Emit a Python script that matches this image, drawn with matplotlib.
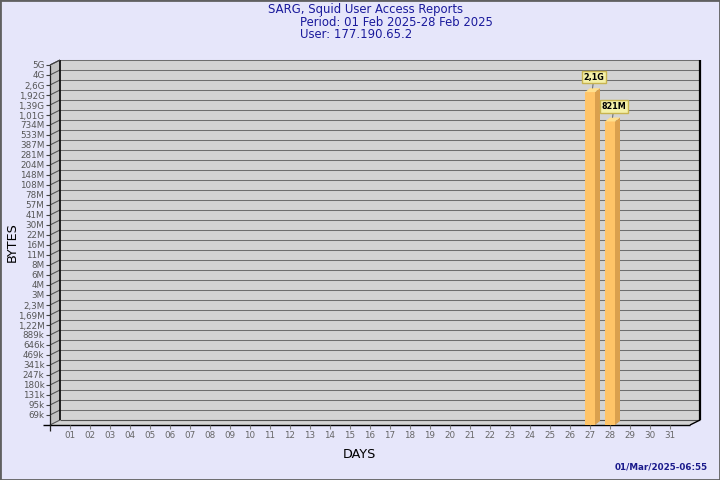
import numpy as np
import matplotlib
matplotlib.use("Agg")
import matplotlib.pyplot as plt
from matplotlib.patches import Polygon, Rectangle
from matplotlib.transforms import IdentityTransform

# ===============================
# Dados
# ===============================
DIAS = [f"{d:02d}" for d in range(1, 32)]

BARRAS_DIA = [27, 28]
BARRAS_BYTES = [2.1e9, 821e6]
BARRAS_ROTULO = ["2,1G", "821M"]

ESCALA_ROTULOS = [
    "69k", "95k", "131k", "180k", "247k", "341k", "469k", "646k", "889k",
    "1,22M", "1,69M", "2,3M", "3M", "4M", "6M", "8M", "11M", "16M", "22M",
    "30M", "41M", "57M", "78M", "108M", "148M", "204M", "281M", "387M",
    "533M", "734M", "1,01G", "1,39G", "1,92G", "2,6G", "4G", "5G",
]
BASE_BYTES = 50e3
TOPO_BYTES = 5e9

TITULO = "SARG, Squid User Access Reports"
PERIODO = "Period: 01 Feb 2025-28 Feb 2025"
USUARIO = "User: 177.190.65.2"
DATA_GERACAO = "01/Mar/2025-06:55"

# ===============================
# Cores
# ===============================
FUNDO = "#e6e6fa"
PAREDE = "#d3d3d3"
PAREDE_LADO = "#c2c2c2"
GRADE = "#6e6e6e"
AZUL = "#1a1a9c"
BARRA_FRENTE = "#ffc468"
BARRA_LADO = "#daa04e"
BARRA_TOPO = "#ffe08e"

# profundidade (pixels) da parede e das barras
PAREDE_DX, PAREDE_DY = 10, 5
BARRA_DX, BARRA_DY = 5, 4

# ===============================
# Figura
# ===============================
fig = plt.figure(figsize=(7.2, 4.8), dpi=100)
fig.patch.set_facecolor(FUNDO)
fig.add_artist(Rectangle((0, 0), 1, 1, transform=fig.transFigure,
                         fill=False, ec="#606060", lw=2))

ax = fig.add_axes([50 / 720, 55 / 480, 640 / 720, 360 / 480])
ax.set_xlim(0, 32)
ax.set_yscale("log")
ax.set_ylim(BASE_BYTES, TOPO_BYTES)
ax.patch.set_visible(False)

n = len(ESCALA_ROTULOS)
ticks_y = BASE_BYTES * (TOPO_BYTES / BASE_BYTES) ** (np.arange(1, n + 1) / n)


def proj(x, y, dx=0.0, dy=0.0):
    px, py = ax.transData.transform((x, y))
    return (px + dx, py + dy)


def poligono(pontos, cor, z, borda="none", lw=0):
    ax.add_patch(Polygon(pontos, closed=True, fc=cor, ec=borda, lw=lw,
                         transform=IdentityTransform(), clip_on=False,
                         zorder=z))


def linha(p0, p1, cor, lw, z=2):
    ax.add_line(plt.Line2D([p0[0], p1[0]], [p0[1], p1[1]], color=cor, lw=lw,
                           transform=IdentityTransform(), clip_on=False,
                           zorder=z, solid_capstyle="butt"))


# paredes
x0, x1 = ax.get_xlim()
D = (PAREDE_DX, PAREDE_DY)
poligono([proj(x0, BASE_BYTES, *D), proj(x1, BASE_BYTES, *D),
          proj(x1, TOPO_BYTES, *D), proj(x0, TOPO_BYTES, *D)], PAREDE, 0.5)
poligono([proj(x0, BASE_BYTES), proj(x0, BASE_BYTES, *D),
          proj(x0, TOPO_BYTES, *D), proj(x0, TOPO_BYTES)], PAREDE_LADO, 0.5)
poligono([proj(x0, BASE_BYTES), proj(x1, BASE_BYTES),
          proj(x1, BASE_BYTES, *D), proj(x0, BASE_BYTES, *D)], PAREDE, 0.5)

# grade
for v in ticks_y:
    linha(proj(x0, v, *D), proj(x1, v, *D), GRADE, 0.75, 1)
    linha(proj(x0, v), proj(x0, v, *D), "#505050", 0.75, 1)
linha(proj(x0, BASE_BYTES, *D), proj(x1, BASE_BYTES, *D), "#505050", 0.8, 1)
linha(proj(x0, BASE_BYTES), proj(x0, BASE_BYTES, *D), "#505050", 0.75, 1)

# bordas
linha(proj(x0, BASE_BYTES, *D), proj(x0, TOPO_BYTES, *D), "black", 1.2, 1.5)
linha(proj(x1, BASE_BYTES, *D), proj(x1, TOPO_BYTES, *D), "black", 1.6, 1.5)
linha(proj(x1, BASE_BYTES), proj(x1, BASE_BYTES, *D), "black", 1.0, 1.5)
linha(proj(x0, TOPO_BYTES), proj(x0, TOPO_BYTES, *D), "#404040", 0.8, 1.5)
linha(proj(x0, BASE_BYTES, -7, 0), proj(x1, BASE_BYTES), "black", 1.0, 1.5)
linha(proj(x0, BASE_BYTES, 0, -6), proj(x0, TOPO_BYTES), "#202020", 0.9, 1.5)

# ===============================
# Barras
# ===============================
meia = 0.25
B = (BARRA_DX, BARRA_DY)
for dia, valor, rotulo in zip(BARRAS_DIA, BARRAS_BYTES, BARRAS_ROTULO):
    esq, dir_ = dia - meia, dia + meia
    ax.add_patch(Rectangle((esq, BASE_BYTES), dir_ - esq, valor - BASE_BYTES,
                           fc=BARRA_FRENTE, ec="none", zorder=3, clip_on=False))
    poligono([proj(dir_, BASE_BYTES), proj(dir_, BASE_BYTES, *B),
              proj(dir_, valor, *B), proj(dir_, valor)], BARRA_LADO, 3)
    poligono([proj(esq, valor), proj(dir_, valor),
              proj(dir_, valor, *B), proj(esq, valor, *B)], BARRA_TOPO, 3)

    ax.annotate(rotulo, xy=(dia + 0.1, valor), xycoords="data",
                xytext=(2, 15), textcoords="offset pixels",
                ha="center", va="center", fontsize=5.8, fontweight="bold",
                color="black", zorder=5,
                bbox=dict(boxstyle="square,pad=0.2", fc="#f4f0a8",
                          ec="#c8b450", lw=1),
                arrowprops=dict(arrowstyle="-", color="#707070", lw=0.8,
                                shrinkA=0, shrinkB=3))

# ===============================
# Eixos
# ===============================
for lado in ["top", "right", "left", "bottom"]:
    ax.spines[lado].set_visible(False)

ax.set_yticks(ticks_y, ESCALA_ROTULOS)
ax.yaxis.set_minor_locator(matplotlib.ticker.NullLocator())
ax.set_xticks(range(1, 32), DIAS)
ax.tick_params(axis="y", length=3, width=0.8, color="#404040", pad=1,
               labelsize=6.3, labelcolor="#555555")
ax.tick_params(axis="x", length=3, width=0.8, color="#808080", pad=1.5,
               labelsize=6.3, labelcolor="#666666")

fig.text(12 / 720, 1 - 242 / 480, "BYTES", rotation=90, ha="center",
         va="center", fontsize=9.2, color="black")
fig.text(359 / 720, 1 - 455 / 480, "DAYS", ha="center", va="center",
         fontsize=9.2, color="black")

fig.text(366 / 720, 1 - 9.5 / 480, TITULO, ha="center", va="center",
         fontsize=8.4, color=AZUL)
fig.text(300 / 720, 1 - 28.5 / 480, PERIODO + "\n" + USUARIO, ha="left",
         va="center", fontsize=8.4, color=AZUL, linespacing=0.9)
fig.text(708 / 720, 1 - 467 / 480, DATA_GERACAO, ha="right", va="center",
         fontsize=6.3, fontweight="bold", color="#1a1a8c")

fig.savefig("out.png", dpi=100, facecolor=FUNDO)
